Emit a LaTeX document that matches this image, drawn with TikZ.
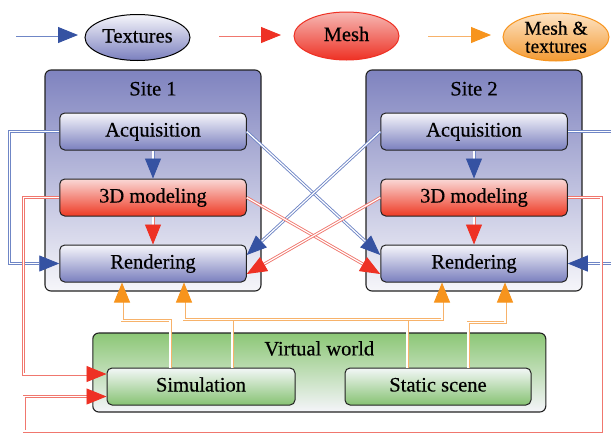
\documentclass[tikz,border=0pt]{standalone}
\usepackage{fontspec}
\setmainfont[FakeBold=0.4]{Liberation Serif}
\usetikzlibrary{arrows.meta,shapes.geometric,calc}

\definecolor{arrblue}{HTML}{3552A2}
\definecolor{lineblue}{HTML}{6F86C6}
\definecolor{arrred}{HTML}{EE3124}
\definecolor{linered}{HTML}{F0776E}
\definecolor{arrorange}{HTML}{F7941D}
\definecolor{lineorange}{HTML}{F7B26A}
\definecolor{sitetop}{HTML}{7F83BF}
\definecolor{sitebot}{HTML}{F6F6FA}
\definecolor{bntop}{HTML}{F6F6FB}
\definecolor{bnbot}{HTML}{7A7FBE}
\definecolor{rntop}{HTML}{FAD8D6}
\definecolor{rnbot}{HTML}{EE3A24}
\definecolor{vwtop}{HTML}{8CC776}
\definecolor{vwbot}{HTML}{F5F5FA}
\definecolor{gntop}{HTML}{F3F7F7}
\definecolor{gnbot}{HTML}{86C272}
\definecolor{meshtop}{HTML}{F6B8B4}
\definecolor{mttop}{HTML}{FDE4C6}
\definecolor{mtbot}{HTML}{F39A32}
\definecolor{edge}{HTML}{222222}

\tikzset{
  conn/.style={double=white, double distance=1.2pt, line width=0.9pt},
  bconn/.style={conn, draw=lineblue, -{Triangle[length=20pt,width=16pt,color=arrblue,fill=arrblue]}},
  rconn/.style={conn, draw=linered, -{Triangle[length=20pt,width=16pt,color=arrred,fill=arrred]}},
  oconn/.style={conn, draw=lineorange, -{Triangle[length=20pt,width=16pt,color=arrorange,fill=arrorange]}},
  oconnboth/.style={conn, draw=lineorange, {Triangle[length=20pt,width=16pt,color=arrorange,fill=arrorange]}-{Triangle[length=20pt,width=16pt,color=arrorange,fill=arrorange]}},
  bline/.style={conn, draw=lineblue},
  oline/.style={conn, draw=lineorange},
  sitebox/.style={rectangle, rounded corners=6pt, draw=edge, line width=1.1pt, top color=sitetop, bottom color=sitebot, minimum width=216pt, minimum height=221pt, inner sep=0pt},
  vwbox/.style={rectangle, rounded corners=6pt, draw=edge, line width=1.1pt, top color=vwtop, bottom color=vwbot, minimum width=453pt, minimum height=79pt, inner sep=0pt},
  stepnode/.style={rectangle, rounded corners=5pt, draw=edge, line width=1pt, minimum width=186.5pt, minimum height=37pt, inner sep=0pt, text height=14pt, text depth=4pt},
  bnode/.style={stepnode, top color=bntop, bottom color=bnbot},
  rnode/.style={stepnode, top color=rntop, bottom color=rnbot},
  gnode/.style={stepnode, top color=gntop, bottom color=gnbot, minimum width=188pt},
  title/.style={inner sep=0pt, text height=14pt, text depth=4pt},
  ell/.style={ellipse, minimum width=105pt, minimum height=46pt, inner sep=0pt, line width=1pt},
}

\begin{document}
\begin{tikzpicture}[x=1pt, y=-1pt, font=\fontsize{20.5}{22}\selectfont]
\useasboundingbox (0,0) rectangle (611,432);

% legend
\node[ell, draw=black, top color=bntop, bottom color=bnbot, text height=14pt, text depth=4pt] (tex) at (137.5,37.5) {Textures};
\node[ell, draw=arrred, top color=meshtop, bottom color=arrred, minimum height=48pt, text height=14pt, text depth=4pt] (mesh) at (346.5,36) {Mesh};
\node[ell, draw=arrorange, top color=mttop, bottom color=mtbot, minimum width=106pt, minimum height=48pt, align=center, font=\fontsize{19.5}{18}\selectfont] (mt) at (556,37) {Mesh \&\\textures};
\coordinate (lb1) at (16,35);  \coordinate (lb2) at (78,35);
\coordinate (lr1) at (219,35); \coordinate (lr2) at (281,35);
\coordinate (lo1) at (428,35); \coordinate (lo2) at (491,35);
\draw[bconn] (lb1) -- (lb2);
\draw[rconn] (lr1) -- (lr2);
\draw[oconn] (lo1) -- (lo2);

% sites
\node[sitebox] (s1) at (153,180.5) {};
\node[sitebox] (s2) at (474,180.5) {};
\node[title] (s1t) at ($(s1.north)+(0,21)$) {Site 1};
\node[title] (s2t) at ($(s2.north)+(0,21)$) {Site 2};

\node[bnode] (a1) at (153,131.5) {Acquisition};
\node[rnode] (m1) at (153,197.5) {3D modeling};
\node[bnode] (r1) at (153,263.5) {Rendering};
\node[bnode] (a2) at (474,131.5) {Acquisition};
\node[rnode] (m2) at (474,197.5) {3D modeling};
\node[bnode] (r2) at (474,263.5) {Rendering};

% virtual world
\node[vwbox] (vw) at (319.3,372.5) {};
\node[title] (vwt) at ($(vw.north)+(0,18)$) {Virtual world};
\node[gnode] (sim) at (201,386.5) {Simulation};
\node[gnode, minimum width=186pt] (static) at (438,386.5) {Static scene};

% inside sites
\draw[bconn] (a1) -- (m1);
\draw[rconn] (m1) -- (r1);
\draw[bconn] (a2) -- (m2);
\draw[rconn] (m2) -- (r2);

% crossing links
\draw[bconn] (a1.east) -- ($(r2.west)+(0,-8.5)$);
\draw[bconn] (a2.west) -- ($(r1.east)+(0,-8.5)$);
\draw[rconn] (m1.east) -- ($(r2.west)+(0,10.5)$);
\draw[rconn] (m2.west) -- ($(r1.east)+(0,10.5)$);

% loops
\draw[bconn] (a1.west) -- ++(-50,0) |- (r1.west);
\coordinate (re1) at (615,131.5);
\coordinate (re2) at (615,263.5);
\draw[bline] (a2.east) -- (re1);
\draw[bconn] (re2) -- (r2.east);
\draw[rconn] (m1.west) -- ++(-36,0) |- ($(sim.west)+(0,-12.5)$);
\coordinate (rb) at (601,431);
\coordinate (lb) at (24,431);
\draw[rconn] (m2.east) -| (rb) -- (lb) |- ($(sim.west)+(0,10)$);

% orange links
\draw[oline] ($(sim.north)+(31,0)$) -- ++(0,-49);
\draw[oline] ($(static.north)+(-31,0)$) -- ++(0,-49);
\draw[oconnboth] ($(r1.south)+(31,0)$) |- ($(r2.south)+(-32,37)$) -- ($(r2.south)+(-32,0)$);
\draw[oconn] ($(sim.north)+(-31,0)$) -- ++(0,-47) -| ($(r1.south)+(-31,0)$);
\draw[oconn] ($(static.north)+(30,0)$) -- ++(0,-45) -| ($(r2.south)+(31,0)$);
\end{tikzpicture}
\end{document}
